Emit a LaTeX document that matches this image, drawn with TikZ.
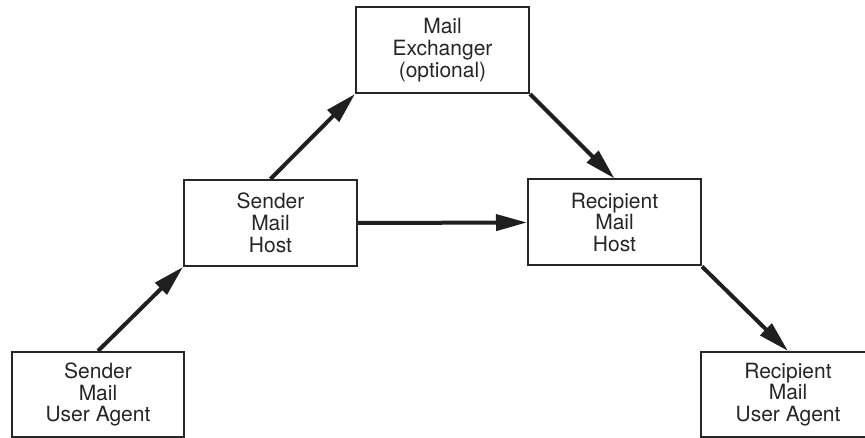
\documentclass[tikz,border=0pt]{standalone}
\usepackage{fontspec}
\setmainfont{TeX Gyre Heros}
\usetikzlibrary{arrows.meta}
\begin{document}
\begin{tikzpicture}[x=1pt,y=-1pt,
  box/.style={draw=black!85, line width=2pt, fill=white, minimum width=173pt, minimum height=86pt,
    align=center, inner sep=0pt, font=\fontsize{21}{21.7}\selectfont, text=black!85},
  flow/.style={draw=black!88, line width=4pt, -{Triangle[length=31pt,width=16pt]}}]
\useasboundingbox (0,0) rectangle (865,438);
\node[box] (me) at (442.5,50) {Mail\\Exchanger\\(optional)};
\node[box] (smh) at (270.5,223) {Sender\\Mail\\Host};
\node[box] (rmh) at (614.5,222.5) {Recipient\\Mail\\Host};
\node[box, minimum width=172pt, minimum height=85pt] (smua) at (98,394.5) {Sender\\Mail\\User Agent};
\node[box, minimum width=174pt, minimum height=85pt] (rmua) at (788,394.5) {Recipient\\Mail\\User Agent};
\draw[flow] (smua.north) -- (smh.south west);
\draw[flow] (smh.north) -- (me.south west);
\draw[flow] (smh.east) -- (rmh.west);
\draw[flow] (me.south east) -- (rmh.north);
\draw[flow] (rmh.south east) -- (rmua.north);
\end{tikzpicture}
\end{document}
